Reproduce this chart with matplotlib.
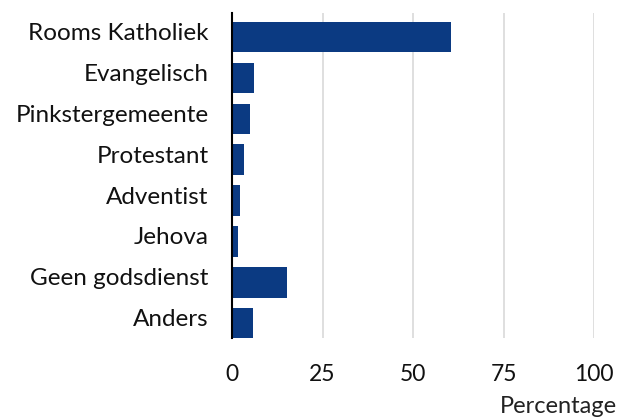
import matplotlib.pyplot as plt
import matplotlib.transforms as mtransforms

categories = ["Rooms Katholiek", "Evangelisch", "Pinkstergemeente", "Protestant",
              "Adventist", "Jehova", "Geen godsdienst", "Anders"]
values = [60.4, 6.0, 4.9, 3.2, 2.1, 1.6, 15.1, 5.7]
xticks = [0, 25, 50, 75, 100]

plt.rcParams['font.family'] = ['Lato', 'DejaVu Sans']

fig = plt.figure(figsize=(6.18, 4.18), dpi=100)
ax = fig.add_axes([0.3754, 0.1914, 0.5858, 0.7775])

pos = list(range(len(categories)))
ax.barh(pos, values, height=0.75, color="#0B3A82", zorder=3)
ax.set_ylim(7.36, -0.59)
ax.set_xlim(0, 100)
ax.set_yticks(pos)
ax.set_yticklabels(categories, fontsize=17.5, color="#111111")
ax.set_xticks(xticks)
ax.set_xticklabels([str(t) for t in xticks], fontsize=16.5, color="#111111")
ax.tick_params(axis='both', length=0)
ax.tick_params(axis='y', pad=17)
ax.tick_params(axis='x', pad=19)
# category labels sit a little above the bar centres in the original
shift = mtransforms.ScaledTranslation(0, 4 / 72, fig.dpi_scale_trans)
for lbl in ax.get_yticklabels():
    lbl.set_transform(lbl.get_transform() + shift)

ax.grid(axis='x', color="#d9d9d9", linewidth=1.2, zorder=0)
for s in ['top', 'right', 'bottom']:
    ax.spines[s].set_visible(False)
ax.spines['left'].set_color('black')
ax.spines['left'].set_linewidth(1.5)
ax.spines['left'].set_zorder(4)

fig.text(0.998, 0.052, "Percentage", ha='right', va='top', fontsize=17, color="#222222")

plt.savefig("out.png", dpi=100)
